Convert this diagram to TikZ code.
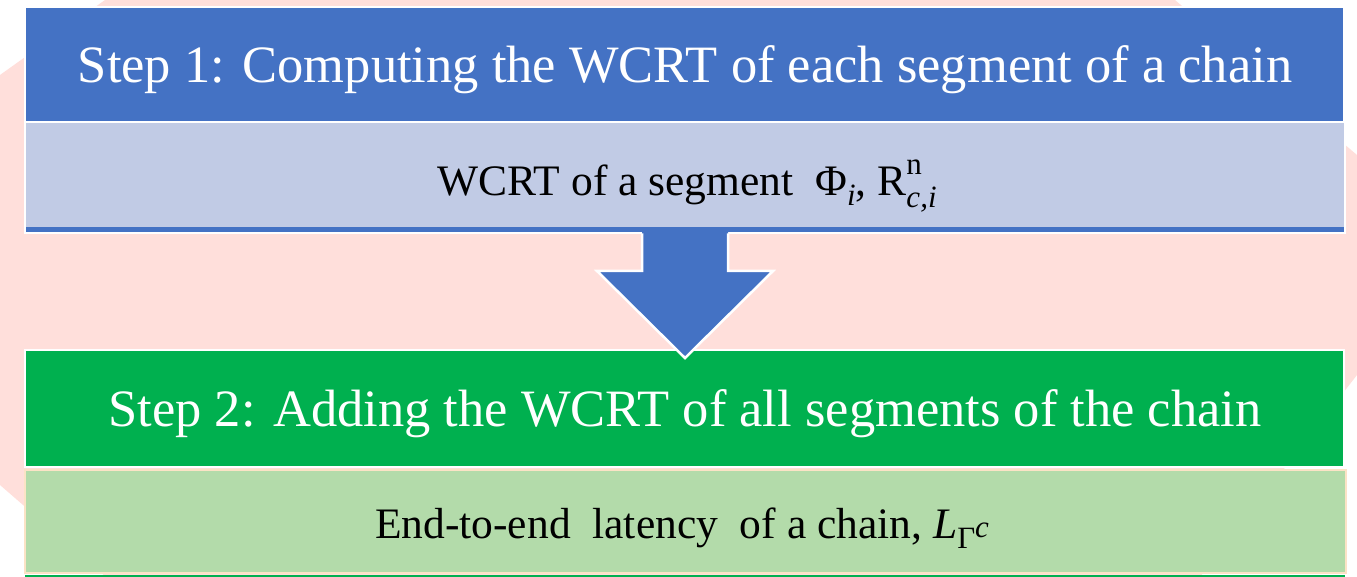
\documentclass[tikz,border=0pt]{standalone}
\usepackage{fontspec}
\setmainfont{Liberation Serif}
\definecolor{pinkbg}{HTML}{FFDFDB}
\definecolor{blueA}{HTML}{4472C4}
\definecolor{blueL}{HTML}{C1CBE5}
\definecolor{greenA}{HTML}{00B04F}
\definecolor{greenL}{HTML}{B3DBAA}
\definecolor{cream}{HTML}{FBE3C6}
\newcommand\mylo[2]{\raisebox{-#1pt}{\fontsize{31}{31}\selectfont #2}}
\newcommand\myhi[2]{\rlap{\raisebox{#1pt}{\fontsize{31}{31}\selectfont #2}}}
\tikzset{
  band/.style={rectangle, inner sep=0pt, outer sep=0pt, draw=white, line width=1.5pt},
  headtext/.style={text=white, inner sep=0pt, anchor=base, font=\fontsize{52.5}{60}\selectfont},
  subtext/.style={text=black, inner sep=0pt, anchor=base, font=\fontsize{43.5}{50}\selectfont}
}
\begin{document}
\begin{tikzpicture}[x=1pt,y=-1pt]
\useasboundingbox (0,0) rectangle (1357,577);
% pink background shape
\fill[pinkbg] (105,0) -- (1175,0) -- (1357,155) -- (1357,375) -- (1200,577) -- (106,577) -- (0,485) -- (0,75) -- cycle;
% step 1
\node[band, fill=blueA, minimum width=1319pt, minimum height=115pt] (s1) at (684.5,64.5) {};
\node[band, fill=blueL, minimum width=1320pt, minimum height=111pt] (r1) at (685,177.5) {};
\fill[blueA] (r1.south west) ++(0.75,-0.75) rectangle ([xshift=-0.75pt,yshift=5.75pt]r1.south east);
% step 2
\node[band, fill=greenA, minimum width=1319pt, minimum height=117pt] (s2) at (684.5,408.5) {};
\node[rectangle, inner sep=0pt, outer sep=0pt, draw=cream, line width=2pt, fill=greenL, minimum width=1321pt, minimum height=103pt] (r2) at (685,521.5) {};
\fill[greenA] (25,575) rectangle (1345,580);
% block arrow
\fill[blueA] (642,229) -- (728,229) -- (728,271) -- (773,271) -- (685,358) -- (597,271) -- (642,271) -- cycle;
\draw[white, line width=2.5pt, line join=miter] (642,233.5) -- (642,271) -- (597,271) -- (685,358) -- (773,271) -- (728,271) -- (728,233.5);
% texts
\node[headtext] (t1) at (685,83) {Step 1: Computing the WCRT of each segment of a chain};
\node[subtext] (u1) at (687,196) {WCRT of a segment\ \ Φ\mylo{10}{\textit{i}}, R\myhi{21}{n}\mylo{12}{\textit{c,i}}};
\node[headtext] (t2) at (685,426) {Step 2: Adding the WCRT of all segments of the chain};
\node[subtext] (u2) at (682,538) {End-to-end\ \ latency\ \ of a chain,\ \textit{L}\mylo{10}{Γ\raisebox{11pt}{\textit{c}}}};
\end{tikzpicture}
\end{document}
